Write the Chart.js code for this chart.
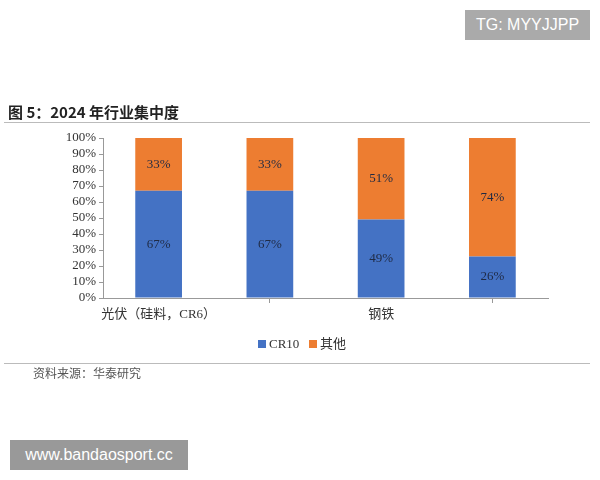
<!DOCTYPE html>
<html><head><meta charset="utf-8">
<script src="https://cdn.jsdelivr.net/npm/chart.js@4"></script>
<style>
body{margin:0;width:600px;height:480px;background:#fff;position:relative;overflow:hidden;font-family:"Noto Sans CJK SC",sans-serif}
#c{position:absolute;left:0;top:0}
.title{position:absolute;left:8px;top:101px;font-size:15px;font-weight:bold;color:#222}
.rule{position:absolute;left:4px;width:586px;height:1px;background:#bbb}
.legend{position:absolute;left:258px;top:333px;font-size:13px;color:#333;font-family:"Liberation Serif","Noto Sans CJK SC",serif}
.legend span.sw{display:inline-block;width:8px;height:8px;margin-right:3px}
.src{position:absolute;left:33px;top:364px;font-size:12px;color:#555}
.box{position:absolute;background:#aaa;color:#fff;font-family:"Liberation Sans",sans-serif;font-size:16px;text-align:center}
</style></head><body>
<canvas id="c" width="600" height="480"></canvas>
<div class="title">图 5：2024 年行业集中度</div>
<div class="rule" style="top:122px"></div>
<div class="rule" style="top:363px"></div>
<div class="legend"><span class="sw" style="background:#4472C4"></span>CR10&nbsp;&nbsp;&nbsp;<span class="sw" style="background:#ED7D31"></span>其他</div>
<div class="src">资料来源：华泰研究</div>
<div class="box" style="left:465px;top:10px;width:125px;height:30px;line-height:30px">TG: MYYJJPP</div>
<div class="box" style="left:10px;top:440px;width:178px;height:30px;line-height:30px;background:#999">www.bandaosport.cc</div>
<script>
var categories = ["光伏（硅料，CR6）", "汽车", "钢铁", "水泥"];
var cr10 = [67, 67, 49, 26];
var others = [33, 33, 51, 74];
var yTicks = [0, 10, 20, 30, 40, 50, 60, 70, 80, 90, 100];

// draw percentage labels in the middle of each bar segment
var barLabels = {
    id: 'barLabels',
    afterDatasetsDraw: function(chart) {
        var ctx = chart.ctx;
        ctx.save();
        ctx.font = '13px "Liberation Serif", serif';
        ctx.fillStyle = '#1f2a44';
        ctx.textAlign = 'center';
        ctx.textBaseline = 'middle';
        chart.data.datasets.forEach(function(ds, i) {
            chart.getDatasetMeta(i).data.forEach(function(bar, j) {
                var mid = (bar.y + bar.base) / 2;
                ctx.fillText(ds.data[j] + '%', bar.x, mid);
            });
        });
        ctx.restore();
    }
};

new Chart(document.getElementById('c'), {
    type: 'bar',
    data: {
        labels: categories,
        datasets: [
            {label: 'CR10', data: cr10, backgroundColor: '#4472C4'},
            {label: '其他', data: others, backgroundColor: '#ED7D31'}
        ]
    },
    options: {
        responsive: false,
        animation: false,
        layout: {padding: {left: 0, right: 52, top: 138, bottom: 0}},
        datasets: {bar: {categoryPercentage: 0.42, barPercentage: 1}},
        plugins: {legend: {display: false}, tooltip: {enabled: false}},
        scales: {
            x: {
                stacked: true,
                afterFit: function(s) { s.height = 182; },
                grid: {offset: true, drawOnChartArea: false, color: '#999', tickLength: 5},
                border: {color: '#999'},
                ticks: {color: '#333', maxRotation: 0, minRotation: 0, font: {size: 13, family: '"Liberation Serif","Noto Sans CJK SC",serif'}, padding: 4}
            },
            y: {
                stacked: true,
                min: 0, max: 100,
                afterFit: function(s) { s.width = 103; },
                afterBuildTicks: function(s) { s.ticks = yTicks.map(function(v){ return {value: v}; }); },
                grid: {drawOnChartArea: false, color: '#999', tickLength: 4},
                border: {color: '#999'},
                ticks: {color: '#333', padding: 3, autoSkip: false, font: {size: 13, family: '"Liberation Serif", serif'},
                    callback: function(v) { return v + '%'; }}
            }
        }
    },
    plugins: [barLabels]
});
</script>
</body></html>
